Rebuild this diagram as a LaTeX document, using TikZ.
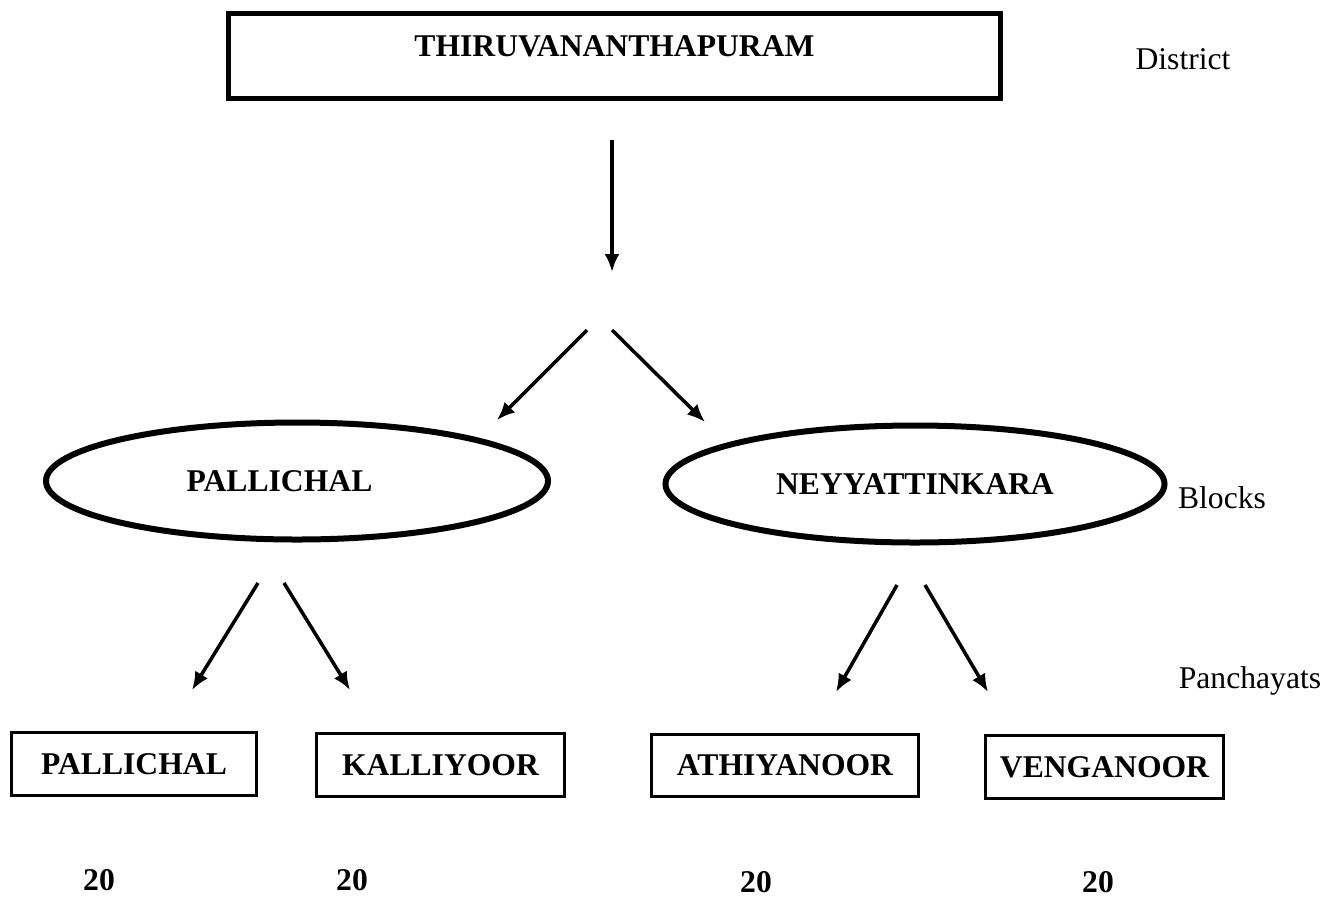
\documentclass[tikz,border=0pt]{standalone}
\usepackage{fontspec}
\setmainfont{Liberation Serif}
\usepackage{tikz}
\usetikzlibrary{arrows.meta,shapes.geometric}
\tikzset{
  distbox/.style={
    rectangle, draw=black, line width=0.1cm,
    minimum width=15.44cm, minimum height=1.7cm,
    font=\fontsize{18}{20}\selectfont\bfseries,
    text height=12pt, text depth=12pt, inner sep=0pt
  },
  blockell/.style={
    ellipse, draw=black, line width=0.12cm,
    minimum width=#1, minimum height=2.34cm,
    font=\fontsize{18}{20}\selectfont\bfseries, inner sep=0pt
  },
  blockell/.default=10cm,
  panbox/.style={
    rectangle, draw=black, line width=0.06cm,
    minimum width=#1, minimum height=1.25cm,
    font=\fontsize{18}{20}\selectfont\bfseries, inner sep=0pt
  },
  panbox/.default=5cm,
  levellabel/.style={anchor=base, font=\fontsize{18}{20}\selectfont},
  countlabel/.style={font=\fontsize{18}{20}\selectfont\bfseries},
  downarrow/.style={
    -{Latex[length=0.36cm, width=0.3cm]}, line width=2pt
  },
}

\begin{document}
\begin{tikzpicture}
\useasboundingbox (0,0) rectangle (26.64,-18);
% district
\node[distbox] (dist) at (12.29,-1.12) {THIRUVANANTHAPURAM};
\node[levellabel] (lbldist) at (23.66,-1.38) {District};
% blocks
\node[blockell=10.04cm] (pallichal) at (5.94,-9.62) {PALLICHAL\hspace*{0.7cm}};
\node[blockell=9.98cm] (neyyat) at (18.3,-9.68) {NEYYATTINKARA};
\node[levellabel] (lblblock) at (24.44,-10.16) {Blocks};
% panchayats
\node[panbox=4.9cm] (p1) at (2.68,-15.28) {PALLICHAL};
\node[panbox=4.96cm] (p2) at (8.81,-15.3) {KALLIYOOR};
\node[panbox=5.34cm] (p3) at (15.7,-15.31) {ATHIYANOOR};
\node[panbox=4.76cm] (p4) at (22.09,-15.34) {VENGANOOR};
\node[levellabel] (lblpan) at (25,-13.76) {Panchayats};
% counts
\node[countlabel] (n1) at (1.98,-17.6) {20};
\node[countlabel] (n2) at (7.04,-17.6) {20};
\node[countlabel] (n3) at (15.12,-17.64) {20};
\node[countlabel] (n4) at (21.96,-17.64) {20};
% arrow ends
\coordinate (d0) at (12.24,-2.8);
\coordinate (d1) at (12.24,-5.44);
\coordinate (bl0) at (11.74,-6.6);
\coordinate (bl1) at (9.94,-8.4);
\coordinate (br0) at (12.24,-6.6);
\coordinate (br1) at (14.1,-8.44);
\coordinate (pl0) at (5.16,-11.66);
\coordinate (pl1) at (3.84,-13.8);
\coordinate (pr0) at (5.68,-11.66);
\coordinate (pr1) at (7.0,-13.8);
\coordinate (ql0) at (17.94,-11.7);
\coordinate (ql1) at (16.72,-13.84);
\coordinate (qr0) at (18.5,-11.7);
\coordinate (qr1) at (19.76,-13.84);
\draw[downarrow] (d0) -- (d1);
\draw[downarrow] (bl0) -- (bl1);
\draw[downarrow] (br0) -- (br1);
\draw[downarrow] (pl0) -- (pl1);
\draw[downarrow] (pr0) -- (pr1);
\draw[downarrow] (ql0) -- (ql1);
\draw[downarrow] (qr0) -- (qr1);
\end{tikzpicture}
\end{document}
